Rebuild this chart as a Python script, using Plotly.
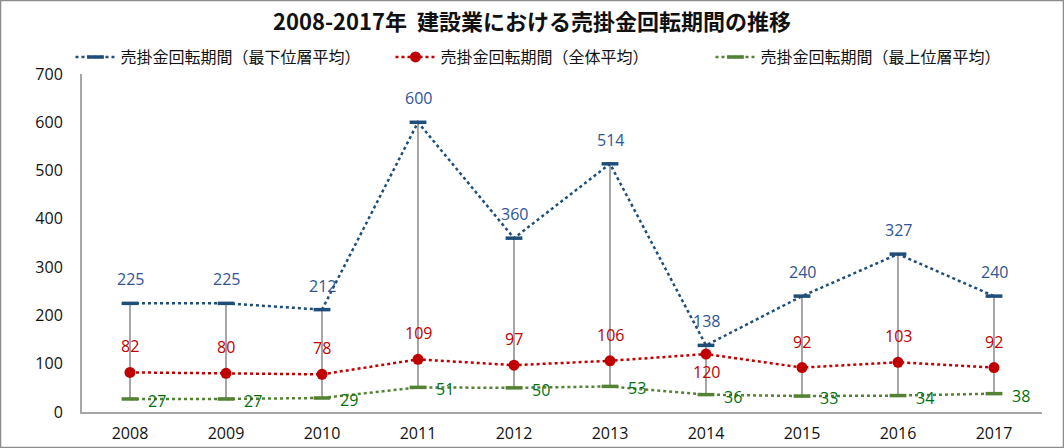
import plotly.graph_objects as go

years = ["2008", "2009", "2010", "2011", "2012", "2013", "2014", "2015", "2016", "2017"]
lowest_tier = [225, 225, 212, 600, 360, 514, 138, 240, 327, 240]
overall = [82, 80, 78, 109, 97, 106, 120, 92, 103, 92]
top_tier = [27, 27, 29, 51, 50, 53, 36, 33, 34, 38]
y_ticks = [0, 100, 200, 300, 400, 500, 600, 700]

name_low = "売掛金回転期間（最下位層平均）"
name_all = "売掛金回転期間（全体平均）"
name_top = "売掛金回転期間（最上位層平均）"
title = "2008-2017年  建設業における売掛金回転期間の推移"

BLUE = "#1F4E79"
BLUE_TXT = "#2F5597"
RED = "#C00000"
GREEN = "#548235"
GREEN_TXT = "#00700F"
GRAY = "#A6A6A6"
JP = "Noto Sans CJK JP"
NUM = "Open Sans"

fig = go.Figure()

# high-low lines
hx, hy = [], []
for yr, hi, lo in zip(years, lowest_tier, top_tier):
    hx += [yr, yr, None]
    hy += [hi, lo, None]
fig.add_trace(go.Scatter(x=hx, y=hy, mode="lines", line=dict(color=GRAY, width=2),
                         showlegend=False, hoverinfo="skip"))

fig.add_trace(go.Scatter(
    x=years, y=lowest_tier, name=name_low, mode="lines+markers",
    line=dict(color=BLUE, width=2.5, dash="dot"),
    marker=dict(symbol="line-ew", size=12, line=dict(color=BLUE, width=3.5))))

fig.add_trace(go.Scatter(
    x=years, y=overall, name=name_all, mode="lines+markers",
    line=dict(color=RED, width=2.5, dash="dot"),
    marker=dict(symbol="circle", size=11, color=RED)))

fig.add_trace(go.Scatter(
    x=years, y=top_tier, name=name_top, mode="lines+markers",
    line=dict(color=GREEN, width=2.5, dash="dot"),
    marker=dict(symbol="line-ew", size=12, line=dict(color=GREEN, width=3.5))))

red_below = [False] * 6 + [True] + [False] * 3

for i, v in enumerate(lowest_tier):
    fig.add_annotation(x=i, y=v, xref="x", yref="y", text=str(v), showarrow=False,
                       yshift=24, font=dict(color=BLUE_TXT, size=16, family=NUM))
for i, v in enumerate(overall):
    fig.add_annotation(x=i, y=v, xref="x", yref="y", text=str(v), showarrow=False,
                       yshift=-18 if red_below[i] else 26,
                       font=dict(color=RED, size=16, family=NUM))
for i, v in enumerate(top_tier):
    fig.add_annotation(x=i, y=v, xref="x", yref="y", text=str(v), showarrow=False,
                       xshift=27, yshift=-2,
                       font=dict(color=GREEN_TXT, size=16, family=NUM))

fig.add_shape(type="rect", xref="paper", yref="paper",
              x0=-81.5 / 960, x1=1 + 21.5 / 960, y0=-35.5 / 338, y1=1 + 73.5 / 338,
              line=dict(color="#8C8C8C", width=1.5))

fig.update_layout(
    width=1064, height=448,
    margin=dict(l=82, r=22, t=74, b=36, autoexpand=False),
    paper_bgcolor="white", plot_bgcolor="white",
    title=dict(text="<b>" + title + "</b>", x=0.5, xanchor="center",
               y=1 - 22 / 448, yanchor="middle",
               font=dict(family=JP, size=22, color="#111111")),
    legend=dict(orientation="h", x=-0.012, xanchor="left", y=1.0, yanchor="bottom",
                font=dict(family=JP, size=16, color="#111111"),
                entrywidth=265, entrywidthmode="pixels", itemwidth=40,
                bgcolor="rgba(0,0,0,0)"),
    showlegend=True,
    xaxis=dict(type="category", categoryorder="array", categoryarray=years,
               range=[-0.5, 9.5], showgrid=False, showline=True,
               linecolor="#A6A6A6", linewidth=2, ticks="", ticklabelstandoff=6,
               tickfont=dict(family=NUM, size=16, color="#111111")),
    yaxis=dict(range=[0, 700], tickvals=y_ticks, showgrid=False, showline=True,
               linecolor="#A6A6A6", linewidth=2, ticks="", zeroline=False,
               ticklabelstandoff=14,
               tickfont=dict(family=NUM, size=16, color="#111111")),
)

fig.write_html("out.html", config={"displayModeBar": False},
               post_script="document.body.style.margin='0';document.body.style.overflow='hidden';")
